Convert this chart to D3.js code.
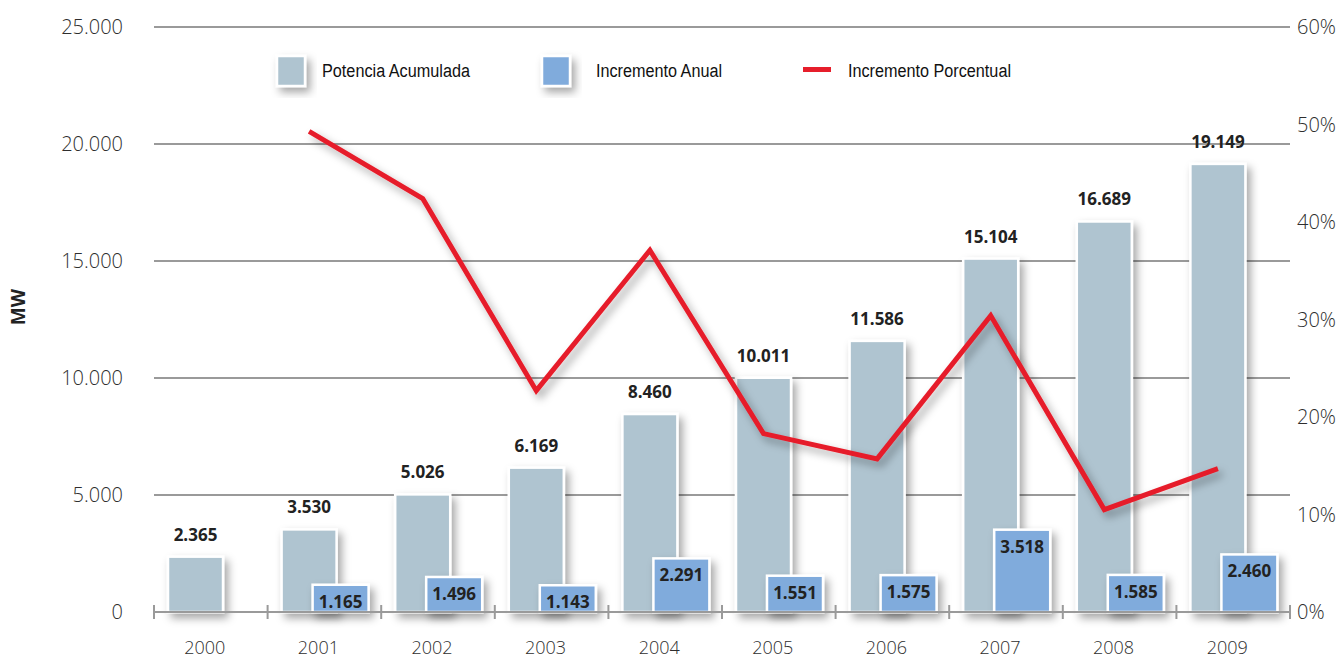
<!DOCTYPE html>
<html lang="es">
  <head>
    <meta charset="utf-8">
    <script src="https://cdn.jsdelivr.net/npm/d3@7"></script>
    <style>
      body { margin: 0; background: #fff; }
      svg { display: block; }
      .tick-label { font-family: "Open Sans", sans-serif; font-weight: 300; fill: #2e2e2e; }
      .val { font-family: "Open Sans", sans-serif; font-weight: 700; font-size: 17px; fill: #222; }
      .legend text { font-family: "Liberation Sans Narrow", "Arial Narrow", "Liberation Sans", sans-serif; font-size: 18px; fill: #111; }
    </style>
  </head>
  <body>
    <svg id="chart" width="1341" height="662"></svg>
    <script>

      // data
      var years = ["2000", "2001", "2002", "2003", "2004", "2005", "2006", "2007", "2008", "2009"],
          acumulada = [2365, 3530, 5026, 6169, 8460, 10011, 11586, 15104, 16689, 19149],
          anual = [null, 1165, 1496, 1143, 2291, 1551, 1575, 3518, 1585, 2460],
          porcentual = [null, 49.3, 42.4, 22.7, 37.1, 18.3, 15.7, 30.4, 10.5, 14.7],
          leftTicks = [0, 5000, 10000, 15000, 20000, 25000],
          rightTicks = [0, 10, 20, 30, 40, 50, 60];

      var colAcum = "#afc4d0",
          colAnual = "#80abdc",
          colLine = "#e61e2b",
          grid = "#9a9a9a";

      var svg = d3.select("#chart");

      var fmt = d3.formatLocale({decimal: ",", thousands: ".", grouping: [3], currency: ["", ""]}).format(",d");

      var x = d3.scaleBand().domain(years).range([154, 1290]),
          y = d3.scaleLinear().domain([0, 25000]).range([612, 27]),
          yp = d3.scaleLinear().domain([0, 60]).range([612, 27]);

      var defs = svg.append("defs");
      var shadow = defs.append("filter")
        .attr("id", "shadow")
        .attr("x", "-30%").attr("y", "-30%")
        .attr("width", "170%").attr("height", "170%");
      shadow.append("feDropShadow")
        .attr("dx", 4).attr("dy", 5)
        .attr("stdDeviation", 4)
        .attr("flood-color", "#000")
        .attr("flood-opacity", 0.35);

      // grid
      svg.append("g").selectAll("line")
        .data(leftTicks.slice(1))
        .enter().append("line")
          .attr("x1", 154).attr("x2", 1290)
          .attr("y1", function(d) { return y(d); })
          .attr("y2", function(d) { return y(d); })
          .attr("stroke", grid)
          .attr("stroke-width", 2);

      // left labels
      svg.append("g").selectAll("text")
        .data(leftTicks)
        .enter().append("text")
          .attr("class", "tick-label")
          .attr("x", 123)
          .attr("y", function(d) { return y(d); })
          .attr("dy", "0.35em")
          .attr("text-anchor", "end")
          .style("font-size", "20px")
          .text(function(d) { return d === 0 ? "0" : fmt(d); });

      // right labels
      svg.append("g").selectAll("text")
        .data(rightTicks)
        .enter().append("text")
          .attr("class", "tick-label")
          .attr("x", 1297)
          .attr("y", function(d) { return yp(d); })
          .attr("dy", "0.35em")
          .style("font-size", "20px")
          .text(function(d) { return d + "%"; });

      svg.append("text")
        .attr("transform", "translate(25,307) rotate(-90)")
        .attr("text-anchor", "middle")
        .style("font-family", "'Open Sans', sans-serif")
        .style("font-weight", 700)
        .style("font-size", "19px")
        .style("fill", "#222")
        .text("MW");

      // bars
      var bw = 55;
      var acc = svg.append("g").attr("filter", "url(#shadow)");
      acc.selectAll("rect")
        .data(years)
        .enter().append("rect")
          .attr("x", function(d) { return x(d) + 14; })
          .attr("y", function(d, i) { return y(acumulada[i]); })
          .attr("width", bw)
          .attr("height", function(d, i) { return y(0) - y(acumulada[i]); })
          .attr("fill", colAcum)
          .attr("stroke", "#fff")
          .attr("stroke-width", 2.5);

      var an = svg.append("g").attr("filter", "url(#shadow)");
      an.selectAll("rect")
        .data(years.filter(function(d, i) { return anual[i] != null; }))
        .enter().append("rect")
          .attr("x", function(d) { return x(d) + 45; })
          .attr("y", function(d) { return y(anual[years.indexOf(d)]); })
          .attr("width", bw + 1)
          .attr("height", function(d) { return y(0) - y(anual[years.indexOf(d)]); })
          .attr("fill", colAnual)
          .attr("stroke", "#fff")
          .attr("stroke-width", 2.5);

      // x axis
      var ax = svg.append("g").attr("stroke", grid).attr("stroke-width", 2);
      ax.append("line")
        .attr("x1", 154).attr("x2", 1290)
        .attr("y1", 612).attr("y2", 612);
      ax.selectAll("line.tk")
        .data(years.concat(["end"]))
        .enter().append("line")
          .attr("class", "tk")
          .attr("x1", function(d) { return d === "end" ? 1290 : x(d); })
          .attr("x2", function(d) { return d === "end" ? 1290 : x(d); })
          .attr("y1", 605).attr("y2", 619);

      svg.append("g").selectAll("text")
        .data(years)
        .enter().append("text")
          .attr("class", "tick-label")
          .attr("x", function(d) { return x(d) + x.bandwidth() / 2 - 6; })
          .attr("y", 654)
          .attr("text-anchor", "middle")
          .style("font-size", "18px")
          .text(function(d) { return d; });

      // value labels
      svg.append("g").selectAll("text")
        .data(years)
        .enter().append("text")
          .attr("class", "val")
          .attr("x", function(d) { return x(d) + 14 + bw / 2; })
          .attr("y", function(d, i) { return y(acumulada[i]) - 16; })
          .attr("text-anchor", "middle")
          .text(function(d, i) { return fmt(acumulada[i]); });

      svg.append("g").selectAll("text")
        .data(years.filter(function(d, i) { return anual[i] != null; }))
        .enter().append("text")
          .attr("class", "val")
          .attr("x", function(d) { return x(d) + 45 + (bw + 1) / 2; })
          .attr("y", function(d) { return y(anual[years.indexOf(d)]) + 23; })
          .attr("text-anchor", "middle")
          .text(function(d) { return fmt(anual[years.indexOf(d)]); });

      // percent line
      var pts = years.map(function(d, i) { return [x(d) + 14 + bw / 2, porcentual[i]]; })
        .filter(function(p) { return p[1] != null; });
      svg.append("path")
        .datum(pts)
        .attr("fill", "none")
        .attr("stroke", colLine)
        .attr("stroke-width", 5)
        .attr("stroke-linejoin", "miter")
        .attr("filter", "url(#shadow)")
        .attr("d", d3.line()
          .x(function(p) { return p[0]; })
          .y(function(p) { return yp(p[1]); }));

      // legend
      var lg = svg.append("g").attr("class", "legend");
      var items = [
        {name: "Potencia Acumulada", type: "box", color: colAcum, x: 277, tx: 322, w: 148},
        {name: "Incremento Anual", type: "box", color: colAnual, x: 542, tx: 596, w: 126},
        {name: "Incremento Porcentual", type: "line", color: colLine, x: 803, tx: 848, w: 163}
      ];
      items.forEach(function(it) {
        if (it.type === "box") {
          lg.append("rect")
            .attr("x", it.x).attr("y", 56)
            .attr("width", 28).attr("height", 30)
            .attr("fill", it.color)
            .attr("stroke", "#fff").attr("stroke-width", 2.5)
            .attr("filter", "url(#shadow)");
        } else {
          lg.append("rect")
            .attr("x", it.x).attr("y", 67)
            .attr("width", 28).attr("height", 5)
            .attr("fill", it.color);
        }
        lg.append("text")
          .attr("x", it.tx).attr("y", 77)
          .attr("textLength", it.w)
          .attr("lengthAdjust", "spacingAndGlyphs")
          .text(it.name);
      });

    </script>
  </body>
</html>
